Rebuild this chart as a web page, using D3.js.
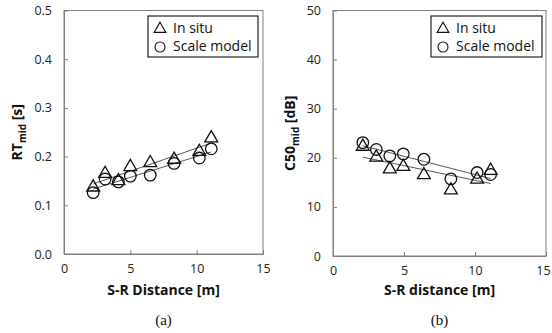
<!DOCTYPE html>
<html><head><meta charset="utf-8">
<script src="https://cdn.jsdelivr.net/npm/d3@7"></script>
<style>body{margin:0;background:#fff}svg{display:block}text{font-family:"Open Sans","Noto Sans",sans-serif}</style>
</head><body>
<script>
const distA = [2.2, 3.1, 4.1, 5.0, 6.5, 8.3, 10.2, 11.1];
const rtInSitu = [0.137, 0.165, 0.150, 0.179, 0.187, 0.194, 0.210, 0.238];
const rtScale = [0.126, 0.154, 0.148, 0.160, 0.162, 0.186, 0.197, 0.216];
const distB = [2.1, 3.05, 4.0, 4.95, 6.4, 8.3, 10.15, 11.1];
const c50InSitu = [22.3, 20.1, 17.7, 18.2, 16.5, 13.4, 15.6, 17.4];
const c50Scale = [23.1, 21.7, 20.4, 20.8, 19.7, 15.7, 17.0, 16.6];
const xTicks = [0, 5, 10, 15];
const rtTicks = [0.0, 0.1, 0.2, 0.3, 0.4, 0.5];
const c50Ticks = [0, 10, 20, 30, 40, 50];
const legendLabels = ["In situ", "Scale model"];

const svg = d3.select("body").append("svg").attr("width", 552).attr("height", 333);

function fit(xs, ys) {
  const n = xs.length, mx = d3.mean(xs), my = d3.mean(ys);
  let sxy = 0, sxx = 0;
  for (let i = 0; i < n; i++) { sxy += (xs[i]-mx)*(ys[i]-my); sxx += (xs[i]-mx)**2; }
  const b = sxy / sxx; return x => my + b*(x-mx);
}

function panel(o) {
  const g = svg.append("g");
  const x = d3.scaleLinear().domain([0, 15]).range([o.left, o.right]);
  const y = d3.scaleLinear().domain([o.ymin, o.ymax]).range([o.bottom, o.top]);
  const frameColor = "#808080";
  g.append("rect").attr("x", o.left).attr("y", o.top).attr("width", o.right-o.left).attr("height", o.bottom-o.top)
    .attr("fill", "none").attr("stroke", frameColor).attr("stroke-width", 1);
  const xa = g.append("g").attr("transform", `translate(0,${o.bottom})`)
    .call(d3.axisBottom(x).tickValues(xTicks).tickSizeInner(-4).tickSizeOuter(0).tickPadding(10));
  const ya = g.append("g").attr("transform", `translate(${o.left},0)`)
    .call(d3.axisLeft(y).tickValues(o.ticks).tickFormat(o.fmt).tickSizeInner(-4).tickSizeOuter(0).tickPadding(12));
  [xa, ya].forEach(a => {
    a.select(".domain").attr("stroke", frameColor);
    a.selectAll(".tick line").attr("stroke", frameColor);
    a.selectAll(".tick text").attr("fill", "#222").style("font-size", "12.5px").style("font-family", '"Open Sans",sans-serif');
  });
  if (o.lastShift) xa.selectAll(".tick text").filter(d => d === 15).attr("dx", o.lastShift);
  [[o.d1, o.xs], [o.d2, o.xs]].forEach(([ys, xs]) => {
    const f = fit(xs, ys), x0 = d3.min(xs), x1 = d3.max(xs);
    g.append("line").attr("x1", x(x0)).attr("y1", y(f(x0))).attr("x2", x(x1)).attr("y2", y(f(x1)))
      .attr("stroke", "#444").attr("stroke-width", 0.9);
  });
  const tri = d3.symbol().type(d3.symbolTriangle).size(72);
  g.selectAll(".c").data(o.d2).join("circle").attr("cx", (d,i) => x(o.xs[i])).attr("cy", d => y(d)).attr("r", 5.8)
    .attr("fill", "none").attr("stroke", "#111").attr("stroke-width", 1.3);
  g.selectAll(".t").data(o.d1).join("path").attr("d", tri)
    .attr("transform", (d,i) => `translate(${x(o.xs[i])},${y(d)})`)
    .attr("fill", "none").attr("stroke", "#111").attr("stroke-width", 1.3);
  g.append("rect").attr("x", o.lx).attr("y", 16).attr("width", o.lw).attr("height", 41)
    .attr("fill", "#fff").attr("stroke", "#222").attr("stroke-width", 1.2);
  const tri2 = d3.symbol().type(d3.symbolTriangle).size(60);
  g.append("path").attr("d", tri2).attr("transform", `translate(${o.lx+12},${29})`)
    .attr("fill", "none").attr("stroke", "#111").attr("stroke-width", 1.1);
  g.append("circle").attr("cx", o.lx+12).attr("cy", 47).attr("r", 5).attr("fill", "none").attr("stroke", "#111").attr("stroke-width", 1.1);
  legendLabels.forEach((t, i) => g.append("text").attr("x", o.lx+25).attr("y", 33 + i*18).text(t)
    .style("font-size", "14px").attr("fill", "#111"));
  g.append("text").attr("x", (o.left+o.right)/2).attr("y", 295).attr("text-anchor", "middle")
    .style("font-size", "14px").style("font-weight", "bold").attr("fill", "#111").text(o.xtitle);
  const yt = g.append("text").attr("transform", `translate(${o.ytx},${(o.top+o.bottom)/2}) rotate(-90)`)
    .attr("text-anchor", "middle").style("font-size", "14px").style("font-weight", "bold").attr("fill", "#111");
  yt.append("tspan").text(o.ytitle);
  yt.append("tspan").attr("dy", 4).style("font-size", "10px").text("mid");
  yt.append("tspan").attr("dy", -4).text(" " + o.yunit);
  g.append("text").attr("x", (o.left+o.right)/2).attr("y", 325).attr("text-anchor", "middle")
    .style("font-size", "15px").style("font-family", '"Liberation Serif",serif').attr("fill", "#111").text(o.cap);
}

panel({left: 64, right: 263, top: 10.5, bottom: 254, ymin: 0, ymax: 0.5, ticks: rtTicks, fmt: d3.format(".1f"),
  xs: distA, d1: rtInSitu, d2: rtScale, lx: 148, lw: 110, xtitle: "S-R Distance [m]", ytitle: "RT", yunit: "[s]",
  ytx: 22, cap: "(a)"});
panel({left: 333, right: 546, top: 10.5, bottom: 256, ymin: 0, ymax: 50, ticks: c50Ticks, fmt: d3.format("d"),
  xs: distB, d1: c50InSitu, d2: c50Scale, lx: 431, lw: 111, xtitle: "S-R distance [m]", ytitle: "C50", yunit: "[dB]",
  ytx: 295, cap: "(b)", lastShift: -3});
</script>
</body></html>
